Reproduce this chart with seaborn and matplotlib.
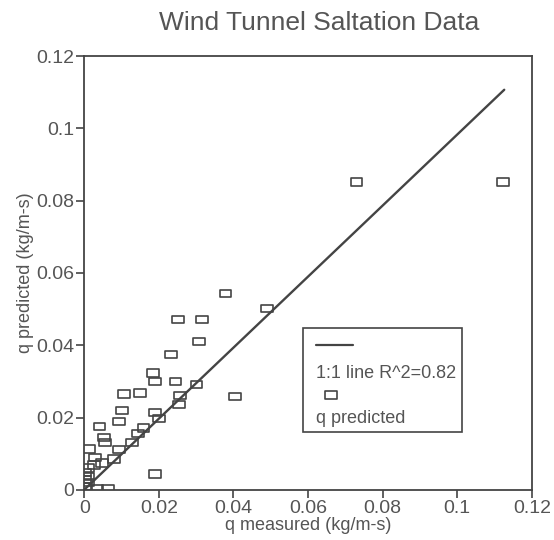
import numpy as np
import pandas as pd
import matplotlib
matplotlib.use("Agg")
import matplotlib.pyplot as plt
from matplotlib.path import Path
from matplotlib.patches import Rectangle
from matplotlib.lines import Line2D
import seaborn as sns

# ---- data ----
q_measured = [0.0379, 0.0490, 0.0251, 0.0315, 0.0307, 0.0233, 0.0184, 0.0190,
              0.0245, 0.0301, 0.0107, 0.0150, 0.0257, 0.0405, 0.0254, 0.0101,
              0.0189, 0.0201, 0.0094, 0.0041, 0.0053, 0.0055, 0.0159, 0.0144,
              0.0129, 0.0013, 0.0093, 0.0029, 0.0080, 0.0048, 0.0190, 0.0035,
              0.0064, 0.0010, 0.0003, 0.0010, 0.0003, 0.0010, 0.0026, 0.0005,
              0.0730, 0.1123]
q_predicted = [0.0543, 0.0502, 0.0472, 0.0472, 0.0410, 0.0375, 0.0323, 0.0299,
               0.0299, 0.0291, 0.0265, 0.0268, 0.0260, 0.0258, 0.0236, 0.0219,
               0.0213, 0.0198, 0.0189, 0.0175, 0.0145, 0.0131, 0.0171, 0.0156,
               0.0131, 0.0113, 0.0111, 0.0089, 0.0085, 0.0074, 0.0044, 0.0004,
               0.0004, 0.0060, 0.0047, 0.0037, 0.0028, 0.0020, 0.0069, 0.0010,
               0.0852, 0.0852]
line_x = [0.0, 0.1126]
line_y = [0.0, 0.1107]
ticks = [0, 0.02, 0.04, 0.06, 0.08, 0.1, 0.12]
tick_labels = ["0", "0.02", "0.04", "0.06", "0.08", "0.1", "0.12"]

title = "Wind Tunnel Saltation Data"
xlabel = "q measured (kg/m-s)"
ylabel = "q predicted (kg/m-s)"
legend_line = "1:1 line R^2=0.82"
legend_pts = "q predicted"

df = pd.DataFrame({"x": q_measured, "y": q_predicted})
dl = pd.DataFrame({"x": line_x, "y": line_y})

sns.set_style("white")
plt.rcParams["font.family"] = ["Liberation Sans", "DejaVu Sans"]

TXT = "#555555"
LN = "#444444"

fig = plt.figure(figsize=(5.54, 5.40), dpi=100)
ax = fig.add_axes([0.152, 0.093, 0.808, 0.803])

rect = Path([(-1, -0.62), (1, -0.62), (1, 0.62), (-1, 0.62), (-1, -0.62)],
            [Path.MOVETO, Path.LINETO, Path.LINETO, Path.LINETO, Path.CLOSEPOLY])

sns.lineplot(data=dl, x="x", y="y", ax=ax, color=LN, linewidth=1.7)
sns.scatterplot(data=df, x="x", y="y", ax=ax, marker=rect, s=72,
                facecolor="none", edgecolor=LN, linewidth=1.2, zorder=3)

ax.set_xlim(0, 0.12)
ax.set_ylim(0, 0.12)
ax.set_xticks(ticks)
ax.set_xticklabels(tick_labels)
ax.set_yticks(ticks)
ax.set_yticklabels(tick_labels)
ax.tick_params(axis="both", direction="out", length=6, width=1.2, color=LN,
               labelsize=14, labelcolor=TXT, pad=1, bottom=True, left=True)
for s in ax.spines.values():
    s.set_color(LN)
    s.set_linewidth(1.3)

ax.set_xlabel(xlabel, fontsize=13, color=TXT, labelpad=0)
ax.set_ylabel(ylabel, fontsize=13, color=TXT, labelpad=2)
ax.set_title(title, fontsize=19, color=TXT, pad=19, x=0.526)

# legend box (sample above text)
lx0, ly0, lw, lh = 0.488, 0.134, 0.357, 0.240
ax.add_patch(Rectangle((lx0, ly0), lw, lh, transform=ax.transAxes,
                       facecolor="white", edgecolor=LN, linewidth=1.2, zorder=4))
ax.add_line(Line2D([0.518, 0.600], [0.335, 0.335], transform=ax.transAxes,
                   color=LN, linewidth=1.6, zorder=5))
ax.text(0.518, 0.268, legend_line, transform=ax.transAxes, fontsize=13,
        color=TXT, va="center", ha="left", zorder=5)
ax.plot([0.552], [0.218], transform=ax.transAxes, marker=rect, markersize=8.5,
        markerfacecolor="none", markeredgecolor=LN, markeredgewidth=1.2,
        linestyle="none", zorder=5)
ax.text(0.518, 0.165, legend_pts, transform=ax.transAxes, fontsize=13,
        color=TXT, va="center", ha="left", zorder=5)

fig.savefig("out.png", dpi=100)
